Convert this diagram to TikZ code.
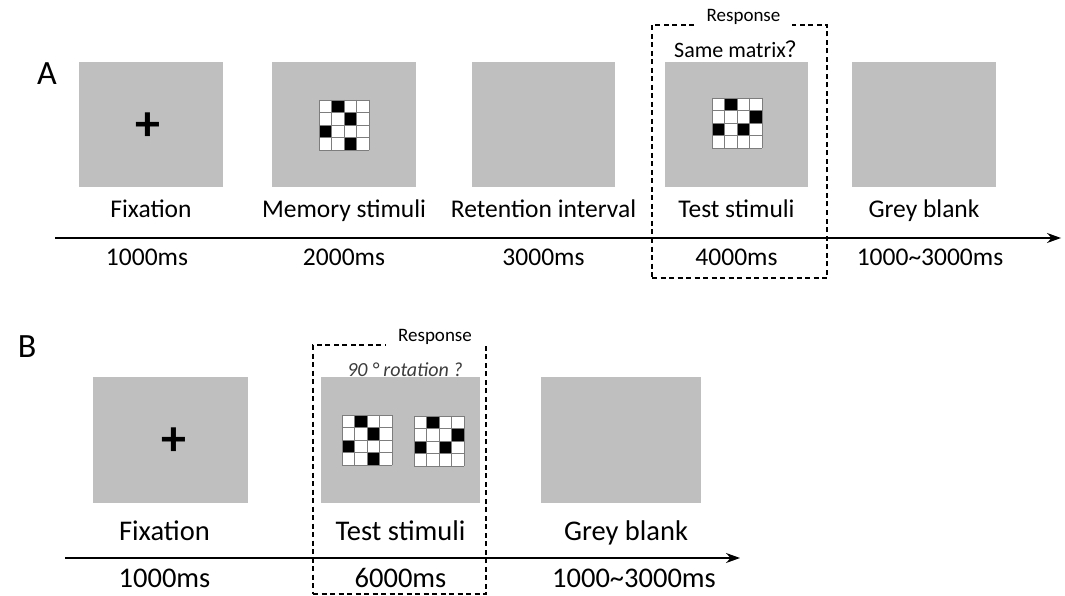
\documentclass[tikz,border=0pt]{standalone}
\usepackage{fontspec}
\setmainfont{Carlito}
\newfontfamily\cjk{Noto Sans CJK SC}
\usetikzlibrary{positioning,arrows.meta}
\definecolor{screengray}{RGB}{191,191,191}
\definecolor{cellline}{RGB}{125,125,125}
\definecolor{notegray}{RGB}{60,60,60}

% 4x4 matrix: #1,#2 top left corner, #3 black cells as col/row
\newcommand{\cellgrid}[3]{%
  \fill[white] (#1,#2) rectangle ++(50,50);
  \foreach \c/\r in {#3}{\fill[black] (#1+\c*12.5-12.5,#2+\r*12.5-12.5) rectangle ++(12.5,12.5);}
  \foreach \k in {0,...,4}{%
    \draw[cellline, line width=0.8pt] (#1+\k*12.5,#2) -- ++(0,50);
    \draw[cellline, line width=0.8pt] (#1,#2+\k*12.5) -- ++(50,0);}
}

\begin{document}
\begin{tikzpicture}[x=1pt, y=-1pt,
    screen/.style={fill=screengray, minimum width=144pt, minimum height=125pt, inner sep=0pt},
    lab/.style={font=\fontsize{25.5}{30}\selectfont, text height=19pt, text depth=6pt, inner sep=2pt},
    labB/.style={font=\fontsize{28.5}{33}\selectfont, text height=21pt, text depth=7pt, inner sep=2pt},
    respbox/.style={draw, dash pattern=on 5pt off 3.5pt, line width=1.3pt, inner sep=0pt},
    resp/.style={font=\fontsize{19}{22}\selectfont, fill=white, inner xsep=12pt, inner ysep=1pt},
    timeline/.style={line width=1.4pt, -{Stealth[length=14pt,width=10pt]}},
    panel/.style={font=\fontsize{34}{38}\selectfont},
    plus/.style={font=\fontsize{50}{50}\selectfont\bfseries},]
    \useasboundingbox (0,0) rectangle (1065,596);
    % panel A
    \node[panel] (A) at (47,74) {A};
    \node[screen]                       (fixA)  at (151,124.5) {};
    \node[screen]                       (memA)  at (344,124.5) {};
    \node[screen, minimum width=143pt]  (retA)  at (543.5,124.5) {};
    \node[screen, minimum width=143pt]  (testA) at (736.5,124.5) {};
    \node[screen]                       (blkA)  at (924,124.5) {};
    \node[plus] (crossA) at (148,127) {+};
    \cellgrid{319}{100}{2/1,3/2,1/3,3/4}
    \cellgrid{712}{98}{2/1,4/2,1/3,3/3}
    \node[lab, below=9.5pt of fixA]  (fixAl)  {Fixation};
    \node[lab, below=9.5pt of memA]  (memAl)  {Memory stimuli};
    \node[lab, below=9.5pt of retA]  (retAl)  {Retention interval};
    \node[lab, below=9.5pt of testA] (testAl) {Test stimuli};
    \node[lab, below=9.5pt of blkA]  (blkAl)  {Grey blank};
    \node[lab, below=18pt of fixAl, xshift=-4pt] (fixAt)  {1000ms};
    \node[lab, below=18pt of memAl]  (memAt)  {2000ms};
    \node[lab, below=18pt of retAl]  (retAt)  {3000ms};
    \node[lab, below=18pt of testAl] (testAt) {4000ms};
    \node[lab, below=18pt of blkAl, xshift=6pt] (blkAt) {1000\char`\~3000ms};
    \coordinate (startA) at (55,238);
    \coordinate (endA) at (1061,238);
    \draw[timeline] (startA) -- (endA);
    \node[respbox, minimum width=175pt, minimum height=253pt] (respA) at (739.5,151.5) {};
    \node[resp] (respAl) at ([xshift=4pt,yshift=7pt]respA.north) {Response};
    \node[font=\fontsize{22}{26}\selectfont] (askA) at (741,49) {Same matrix{\cjk ？}};
    % panel B
    \node[panel] (B) at (27,347) {B};
    \node[screen, minimum width=155pt, minimum height=126pt] (fixB)  at (170.5,440) {};
    \node[screen, minimum width=159pt, minimum height=126pt] (testB) at (400.5,440) {};
    \node[screen, minimum width=160pt, minimum height=126pt] (blkB)  at (621,440) {};
    \node[plus] (crossB) at (174,442) {+};
    \cellgrid{342}{415}{2/1,3/2,1/3,3/4}
    \cellgrid{414}{416}{2/1,4/2,1/3,3/3}
    \node[labB, below=14pt of fixB, xshift=-6pt] (fixBl)  {Fixation};
    \node[labB, below=14pt of testB]             (testBl) {Test stimuli};
    \node[labB, below=14pt of blkB, xshift=5pt]  (blkBl)  {Grey blank};
    \node[labB, below=15pt of fixBl]  (fixBt)  {1000ms};
    \node[labB, below=15pt of testBl] (testBt) {6000ms};
    \node[labB, below=15pt of blkBl, xshift=8pt] (blkBt) {1000\char`\~3000ms};
    \coordinate (startB) at (65,558);
    \coordinate (endB) at (740,558);
    \draw[timeline] (startB) -- (endB);
    \node[respbox, minimum width=173pt, minimum height=249pt] (respB) at (399.5,469.5) {};
    \node[resp] (respBl) at ([xshift=35.5pt,yshift=7pt]respB.north) {Response};
    \node[font=\fontsize{20}{24}\selectfont\itshape, text=notegray] (askB) at (405,370) {90 ° rotation ?};
\end{tikzpicture}
\end{document}
